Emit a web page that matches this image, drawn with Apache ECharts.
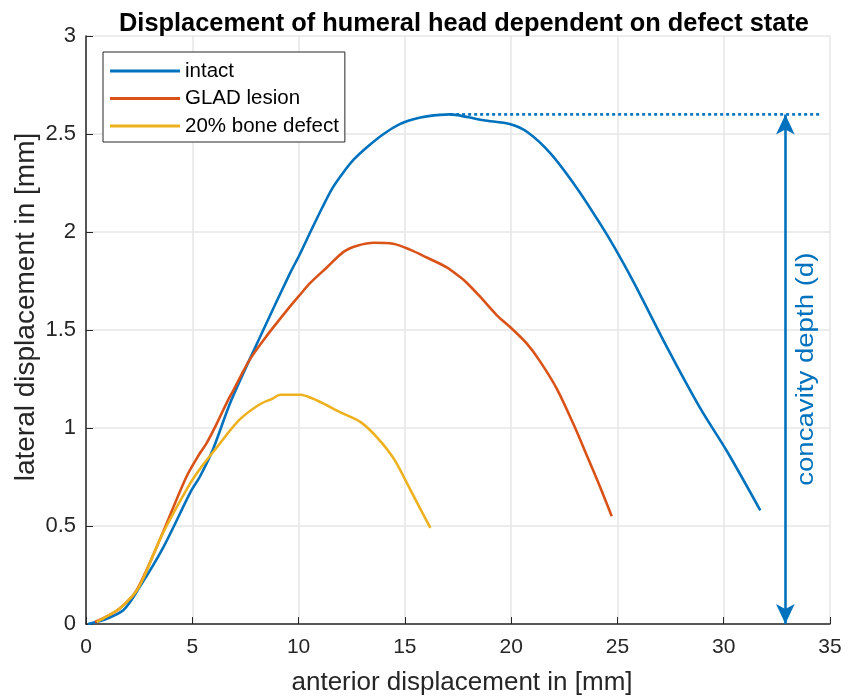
<!DOCTYPE html>
<html>
<head>
<meta charset="utf-8">
<script src="https://cdn.jsdelivr.net/npm/echarts@6/dist/echarts.min.js"></script>
<style>
  html, body { margin: 0; padding: 0; background: #fff; }
  #chart { width: 859px; height: 697px; }
</style>
</head>
<body>
<div id="chart"></div>
<script>
const intactX = [0.1, 0.8, 1.75, 2.53, 3.63, 4.95, 5.35, 5.97, 6.83, 8.34, 9.6, 10.03, 10.6, 11.14, 11.6, 12.08, 12.6, 13.19, 14.0, 14.76, 15.4, 16.03, 17.13, 18.0, 18.7, 19.97, 20.76, 21.86, 23.12, 24.2, 24.84, 25.78, 27.34, 28.9, 30.16, 31.72];
const intactY = [0, 0.02, 0.07, 0.19, 0.39, 0.68, 0.75, 0.89, 1.14, 1.5, 1.79, 1.88, 2.01, 2.13, 2.225, 2.3, 2.37, 2.43, 2.5, 2.55, 2.575, 2.59, 2.6, 2.585, 2.57, 2.55, 2.51, 2.4, 2.22, 2.04, 1.925, 1.74, 1.41, 1.1, 0.88, 0.58];

const gladX = [0.42, 1.0, 1.6, 2.37, 3.47, 4.72, 5.35, 5.66, 6.14, 6.67, 6.92, 7.71, 8.5, 9.45, 10.03, 10.55, 11.34, 12.13, 12.76, 13.55, 14.45, 15.24, 16.03, 16.97, 17.6, 17.92, 18.54, 19.33, 20.0, 20.74, 21.36, 22.15, 22.93, 23.56, 24.18, 24.73];
const gladY = [0.01, 0.04, 0.08, 0.17, 0.43, 0.75, 0.87, 0.92, 1.02, 1.14, 1.19, 1.35, 1.47, 1.6, 1.675, 1.74, 1.82, 1.9, 1.93, 1.945, 1.94, 1.91, 1.87, 1.82, 1.77, 1.74, 1.67, 1.575, 1.51, 1.43, 1.34, 1.2, 1.02, 0.86, 0.7, 0.55];

const boneX = [0.5, 1.0, 1.6, 2.45, 3.6, 4.86, 5.35, 6.0, 7.2, 8.16, 8.78, 9.13, 10.08, 10.87, 11.97, 12.92, 13.71, 14.5, 15.28, 16.2];
const boneY = [0.01, 0.04, 0.08, 0.18, 0.46, 0.71, 0.79, 0.88, 1.04, 1.12, 1.15, 1.17, 1.17, 1.14, 1.08, 1.03, 0.95, 0.84, 0.68, 0.49];

const seriesNames = ['intact', 'GLAD lesion', '20% bone defect'];
const xTicks = [0, 5, 10, 15, 20, 25, 30, 35];
const yTicks = [0, 0.5, 1, 1.5, 2, 2.5, 3];

// concavity depth marker
const depthLevel = 2.6;
const depthLineX = [17.13, 34.6];
const arrowX = 32.9;

const pairs = (xs, ys) => xs.map((x, i) => [x, ys[i]]);

const blue = '#0072BD';
const orange = '#D95319';
const yellow = '#EDB120';
const axisColor = '#262626';
const font = 'Liberation Sans';

const chart = echarts.init(document.getElementById('chart'));

chart.setOption({
  animation: false,
  textStyle: { fontFamily: font },
  title: {
    text: 'Displacement of humeral head dependent on defect state',
    left: 459,
    textAlign: 'center',
    top: 6,
    textStyle: { fontSize: 25.4, fontWeight: 'bold', color: '#000', fontFamily: font },
  },
  grid: { left: 86, right: 29, top: 36, bottom: 73, containLabel: false, outerBoundsMode: 'none' },
  legend: {
    orient: 'vertical',
    left: 103,
    top: 52,
    data: seriesNames,
    icon: 'rect',
    itemWidth: 70,
    itemHeight: 3,
    itemGap: 6.5,
    padding: [8.5, 6, 5.5, 7],
    backgroundColor: '#fff',
    borderColor: '#262626',
    borderWidth: 1,
    borderRadius: 0,
    textStyle: { fontSize: 20.5, color: '#000', fontFamily: font },
  },
  xAxis: {
    type: 'value',
    min: xTicks[0],
    max: xTicks[xTicks.length - 1],
    interval: 5,
    name: 'anterior displacement in [mm]',
    nameLocation: 'middle',
    nameGap: 46,
    nameMoveOverlap: false,
    nameTextStyle: { fontSize: 26, color: axisColor, padding: [0, 0, 0, 8] },
    axisLine: { lineStyle: { color: axisColor, width: 1.5 } },
    axisTick: { inside: true, length: 7, lineStyle: { color: axisColor } },
    axisLabel: { fontSize: 21, color: axisColor, margin: 13, hideOverlap: false },
    splitLine: { show: true, lineStyle: { color: '#e6e6e6', width: 1.5 } },
  },
  yAxis: {
    type: 'value',
    min: yTicks[0],
    max: yTicks[yTicks.length - 1],
    interval: 0.5,
    name: 'lateral displacement in [mm]',
    nameLocation: 'middle',
    nameGap: 46,
    nameMoveOverlap: false,
    nameTextStyle: { fontSize: 28, color: axisColor, padding: [0, 0, 0, 46] },
    axisLine: { show: true, lineStyle: { color: axisColor, width: 1.5 } },
    axisTick: { show: true, inside: true, length: 7, lineStyle: { color: axisColor } },
    axisLabel: { fontSize: 22, color: axisColor, margin: 10 },
    splitLine: { show: true, lineStyle: { color: '#e6e6e6', width: 1.5 } },
  },
  series: [
    {
      name: seriesNames[0],
      type: 'line',
      symbol: 'none',
      smooth: 0.3,
      data: pairs(intactX, intactY),
      lineStyle: { color: blue, width: 2.6 },
      itemStyle: { color: blue },
      z: 3,
    },
    {
      name: seriesNames[1],
      type: 'line',
      symbol: 'none',
      smooth: 0.3,
      data: pairs(gladX, gladY),
      lineStyle: { color: orange, width: 2.6 },
      itemStyle: { color: orange },
      z: 4,
    },
    {
      name: seriesNames[2],
      type: 'line',
      symbol: 'none',
      smooth: 0.3,
      data: pairs(boneX, boneY),
      lineStyle: { color: yellow, width: 2.6 },
      itemStyle: { color: yellow },
      z: 5,
    },
    {
      name: 'depth',
      type: 'line',
      symbol: 'none',
      data: depthLineX.map(x => [x, depthLevel]),
      lineStyle: { color: blue, width: 2.6, type: [3, 3] },
      silent: true,
      markLine: {
        silent: true,
        symbol: ['arrow', 'arrow'],
        symbolSize: [14, 20],
        label: { show: false },
        lineStyle: { color: blue, width: 2.6, type: 'solid' },
        data: [[{ coord: [arrowX, 0] }, { coord: [arrowX, depthLevel] }]],
      },
    },
  ],
});

const labelPos = chart.convertToPixel({ gridIndex: 0 }, [33.9, 1.3]);
chart.setOption({
  graphic: [{
    type: 'text',
    x: labelPos[0],
    y: labelPos[1],
    rotation: Math.PI / 2,
    scaleX: 1.2,
    style: {
      text: 'concavity depth (d)',
      fill: blue,
      fontSize: 23,
      fontFamily: font,
      align: 'center',
      verticalAlign: 'middle',
    },
  }],
});
</script>
</body>
</html>
